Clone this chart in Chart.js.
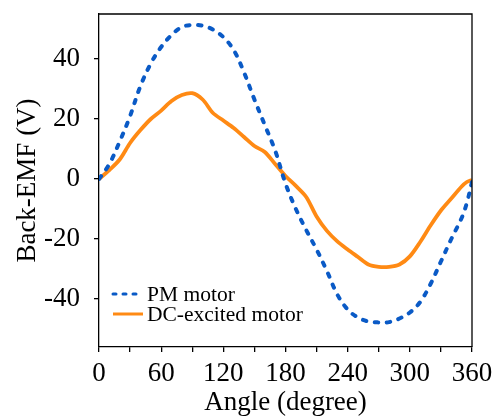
<!DOCTYPE html>
<html>
<head>
<meta charset="utf-8">
<script src="https://cdn.jsdelivr.net/npm/chart.js@4/dist/chart.umd.min.js"></script>
<style>
html,body{margin:0;padding:0;background:#fff;}
#wrap{width:496px;height:419px;position:relative;}
</style>
</head>
<body>
<div id="wrap"><canvas id="c" width="496" height="419"></canvas></div>
<script>
// ---- data ----
const angles = [0,10,20,30,40,50,60,70,80,90,100,110,120,130,140,150,160,170,180,190,200,210,220,230,240,250,260,270,280,290,300,310,320,330,340,350,355,360];
const pmMotor = [0,5,12.5,21,31,38.5,44,48,50.7,51.3,51.1,49.8,47.3,43,35.5,26.5,18,9.5,-1.5,-10,-17,-23.5,-30.7,-38.5,-43.5,-46.2,-47.5,-47.8,-47.7,-46.5,-44.5,-41,-35,-27.5,-20,-13,-8,-1];
const dcMotor = [0,3,6.5,12,16.3,20,22.8,26,28,28.6,26.5,22,19.5,17,14,11,9,5,1,-2.3,-6,-12.5,-17.3,-20.8,-23.5,-26,-28.5,-29.3,-29.3,-28.5,-25.8,-21,-15.5,-10.5,-6.5,-2.5,-1,-0.3];
const seriesNames = ['PM motor','DC-excited motor'];
const xTickValues = [0,30,60,90,120,150,180,210,240,270,300,330,360];
const xTickLabels = ['0','','60','','120','','180','','240','','300','','360'];
const yTickValues = [-40,-20,0,20,40];
const yTickLabels = ['-40','-20','0','20','40'];

const FONT = "'Liberation Serif','Times New Roman',serif";
const BLUE = '#0A5AC6';
const ORANGE = '#FF8A14';

const pts = (ys) => angles.map((a,i)=>({x:a,y:ys[i]}));

const framePlugin = {
  id:'frame',
  afterDraw(chart){
    const {ctx, chartArea:a} = chart;
    ctx.save();
    ctx.strokeStyle = '#000';
    ctx.lineWidth = 1.3;
    ctx.beginPath();
    ctx.moveTo(a.left, a.top);
    ctx.lineTo(a.right, a.top);
    ctx.lineTo(a.right, a.bottom);
    ctx.stroke();
    // legend
    const ds = chart.data.datasets;
    const rows = [a.bottom-53, a.bottom-33];
    ds.forEach((d,i)=>{
      const y = rows[i];
      ctx.beginPath();
      ctx.strokeStyle = d.borderColor;
      ctx.lineWidth = 3;
      ctx.lineCap = d.borderDash ? 'round' : 'butt';
      ctx.setLineDash(d.borderDash ? [3,7] : []);
      ctx.moveTo(a.left+14, y);
      ctx.lineTo(a.left+44, y);
      ctx.stroke();
      ctx.setLineDash([]);
      ctx.fillStyle = '#000';
      ctx.font = "21.5px " + FONT;
      ctx.textBaseline = 'middle';
      ctx.textAlign = 'left';
      ctx.fillText(d.label, a.left+48, y+1);
    });
    ctx.restore();
  }
};

new Chart(document.getElementById('c'), {
  type:'line',
  data:{
    datasets:[
      {label:seriesNames[0], data:pts(pmMotor), borderColor:BLUE, borderWidth:4, borderDash:[3.5,8.5], borderCapStyle:'round', pointRadius:0, tension:0.35, fill:false},
      {label:seriesNames[1], data:pts(dcMotor), borderColor:ORANGE, borderWidth:3.8, pointRadius:0, tension:0.3, fill:false}
    ]
  },
  options:{
    responsive:false,
    animation:false,
    layout:{padding:{top:14,right:24,left:0,bottom:0}},
    plugins:{legend:{display:false}, tooltip:{enabled:false}},
    scales:{
      x:{
        type:'linear', min:0, max:360,
        afterBuildTicks(s){ s.ticks = xTickValues.map(v=>({value:v})); },
        afterFit(s){ s.height = 72; s.paddingLeft = 0; s.paddingRight = 0; },
        ticks:{ autoSkip:false, maxRotation:0, padding:6, color:'#000', font:{family:FONT,size:27},
          callback:(v)=>{ const i = xTickValues.indexOf(v); return i>=0 ? xTickLabels[i] : ''; } },
        grid:{drawOnChartArea:false, drawTicks:true, tickLength:5, color:'#000', lineWidth:1.3},
        border:{display:true, color:'#000', width:1.3},
        title:{display:true, text:'Angle (degree)', color:'#000', font:{family:FONT,size:27}, padding:{top:5,bottom:0}}
      },
      y:{
        type:'linear', min:-56, max:55,
        afterBuildTicks(s){ s.ticks = yTickValues.map(v=>({value:v})); },
        afterFit(s){ s.width = 99; s.paddingTop = 0; s.paddingBottom = 0; },
        ticks:{ padding:14, color:'#000', font:{family:FONT,size:27},
          callback:(v)=>{ const i = yTickValues.indexOf(v); return i>=0 ? yTickLabels[i] : ''; } },
        grid:{drawOnChartArea:false, drawTicks:true, tickLength:5, color:'#000', lineWidth:1.3},
        border:{display:true, color:'#000', width:1.3},
        title:{display:true, text:'Back-EMF (V)', color:'#000', font:{family:FONT,size:27}, padding:{top:12,bottom:0}}
      }
    }
  },
  plugins:[framePlugin]
});
</script>
</body>
</html>
